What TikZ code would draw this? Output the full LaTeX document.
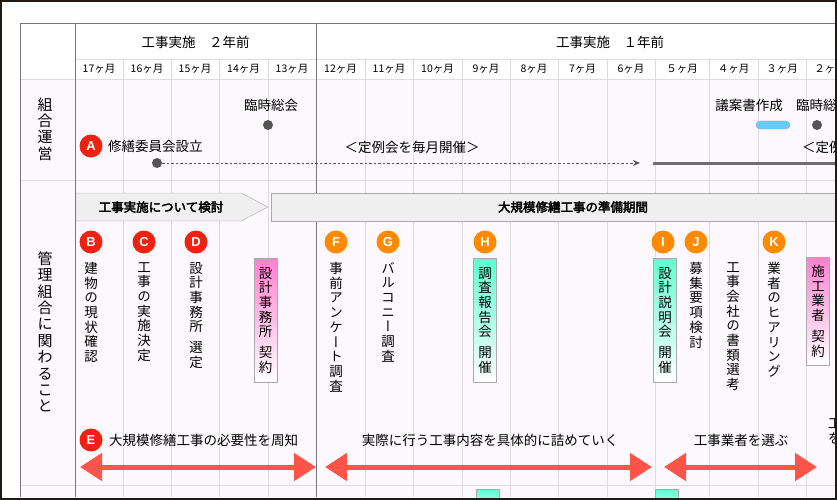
\documentclass[tikz,border=0pt]{standalone}
\usepackage{fontspec}
\setmainfont{Noto Sans CJK JP}[AutoFakeBold=3]
\newfontfamily\vjp{Noto Sans CJK JP}[RawFeature=+vert]
\newfontfamily\lat{Liberation Sans}
\usetikzlibrary{arrows.meta}
\definecolor{gridl}{HTML}{DDDDDD}
\definecolor{frameg}{HTML}{777777}
\definecolor{bodybg}{HTML}{FDF8FD}
\definecolor{redc}{HTML}{EE2211}
\definecolor{orc}{HTML}{FF8A00}
\definecolor{arrred}{HTML}{FF5548}
\definecolor{pinkt}{HTML}{FF7FD0}
\definecolor{aquat}{HTML}{60FFD0}
\definecolor{cyanp}{HTML}{66CCFF}
\definecolor{dotg}{HTML}{555555}
\definecolor{banf}{HTML}{EFEFEF}
\definecolor{band}{HTML}{AAAAAA}
\definecolor{outer}{HTML}{201A16}
\begin{document}
\begin{tikzpicture}[x=1pt,y=-1pt,
  hdr/.style={font=\fontsize{13.5}{14}\selectfont, inner sep=0},
  month/.style={font=\fontsize{10.5}{11}\selectfont, inner sep=0},
  body/.style={font=\fontsize{13.5}{15}\selectfont, inner sep=0},
  sidelabel/.style={align=center, font=\fontsize{15}{16.4}\selectfont, inner sep=0},
  letter/.style={circle, fill=#1, text=white, font=\lat\bfseries\fontsize{13}{13}\selectfont, minimum size=23, inner sep=0},
  vtext/.style={anchor=north, align=center, font=\vjp\fontsize{13.5}{14.7}\selectfont, inner sep=0},
  vbox/.style={draw=band, top color=#1, bottom color=white, minimum width=23, anchor=north, align=center, inner sep=0, font=\vjp\fontsize{13.5}{14.7}\selectfont},
  dot/.style={circle, fill=dotg, minimum size=10, inner sep=0},
  banner/.style={fill=banf, draw=band},
  bantext/.style={font=\bfseries\fontsize{12.5}{12.5}\selectfont, inner sep=0},
  redarrow/.style={arrred, line width=5, {Triangle[length=22pt,width=27pt]}-{Triangle[length=22pt,width=27pt]}}
]
\useasboundingbox (0,0) rectangle (837,500);
\clip (0,0) rectangle (837,500);
\fill[white] (0,0) rectangle (837,500);
\fill[bodybg] (20,79) rectangle (837,497);
% grid
\foreach \x in {123,171,219,268,365,413,462,510,558,607,655,709,758,806}
  \draw[gridl] (\x,59) -- (\x,497);
\draw[gridl] (75,59) -- (837,59);
\foreach \y in {79,180,485} \draw[gridl] (20,\y) -- (837,\y);
\draw[frameg] (20,23) -- (837,23);
\foreach \x in {20,75,316} \draw[frameg] (\x,23) -- (\x,497);
% headers
\node[hdr] (h2) at (195.5,42) {工事実施　２年前};
\node[hdr] (h1) at (610,42) {工事実施　１年前};
\foreach \x/\m [count=\i] in {99/17ヶ月,147/16ヶ月,195/15ヶ月,243.5/14ヶ月,292/13ヶ月,340.5/12ヶ月,389/11ヶ月,437.5/10ヶ月,486/9ヶ月,534/8ヶ月,582.5/7ヶ月,631/6ヶ月,682/５ヶ月,733.5/４ヶ月,782/３ヶ月,830/２ヶ月}
  \node[month] (m\i) at (\x,69) {\m};
% side labels
\node[sidelabel] (s1) at (45,129) {組\\合\\運\\営};
\node[sidelabel] (s2) at (45,332) {管\\理\\組\\合\\に\\関\\わ\\る\\こ\\と};
% 組合運営 row
\node[body] (t1) at (271,105) {臨時総会};
\node[dot] (d1) at (268,125) {};
\node[letter=redc] (A) at (91,146) {A};
\node[body, anchor=west] (tA) at (108,146) {修繕委員会設立};
\node[dot] (d0) at (157,163) {};
\coordinate (dend) at (640,163);
\draw[dotg, line width=0.8, dash pattern=on 2.5pt off 2pt, -{Stealth[length=7pt,width=6pt]}] (d0) -- (dend);
\node[body] (reg) at (412,147) {＜定例会を毎月開催＞};
\coordinate (g1) at (653,163);
\coordinate (g2) at (845,163);
\draw[dotg!85!white, line width=3] (g1) -- (g2);
\node[body] (gian) at (749,105) {議案書作成};
\node[draw=band, fill=cyanp, rounded corners=4, minimum width=34, minimum height=8, inner sep=0] (pill) at (773,125) {};
\node[body, anchor=west] (t2) at (796,105) {臨時総会};
\node[dot] (d2) at (817,125) {};
\node[body, anchor=west] (reg2) at (802,147) {＜定例会を毎月開催＞};
% banners
\draw[banner] (76,193) -- (241,193) -- (268,207) -- (241,221) -- (76,221) -- cycle;
\node[bantext] (b1) at (161,207) {工事実施について検討};
\draw[banner] (271,193) rectangle (850,221);
\node[bantext] (b2) at (573,207) {大規模修繕工事の準備期間};
% items
\node[letter=redc] (B) at (91,242) {B};
\node[letter=redc] (C) at (144,242) {C};
\node[letter=redc] (D) at (196,242) {D};
\node[vtext] (tB) at (91,262) {建\\物\\の\\現\\状\\確\\認};
\node[vtext] (tC) at (144,262) {工\\事\\の\\実\\施\\決\\定};
\node[vtext] (tD) at (196,262) {設\\計\\事\\務\\所\\[6pt]選\\定};
\node[vbox=pinkt, minimum height=124] (pD) at (265.5,258) {設\\計\\事\\務\\所\\[6pt]契\\約};
\node[letter=orc] (F) at (336,242) {F};
\node[letter=orc] (G) at (388,242) {G};
\node[letter=orc] (H) at (485,242) {H};
\node[vtext] (tF) at (336,262) {事\\前\\ア\\ン\\ケ\\ー\\ト\\調\\査};
\node[vtext] (tG) at (388,262) {バ\\ル\\コ\\ニ\\ー\\調\\査};
\node[vbox=aquat, minimum height=124] (pH) at (485,258) {調\\査\\報\\告\\会\\[6pt]開\\催};
\node[letter=orc] (I) at (663,242) {I};
\node[letter=orc] (J) at (696,242) {J};
\node[letter=orc] (K) at (774,242) {K};
\node[vbox=aquat, minimum height=124] (pI) at (665,258) {設\\計\\説\\明\\会\\[6pt]開\\催};
\node[vtext] (tJ) at (696,262) {募\\集\\要\\項\\検\\討};
\node[vtext] (tS) at (733,262) {工\\事\\会\\社\\の\\書\\類\\選\\考};
\node[vtext] (tK) at (774,262) {業\\者\\の\\ヒ\\ア\\リ\\ン\\グ};
\node[vbox=pinkt, minimum height=108] (pK) at (818,257) {施\\工\\業\\者\\[6pt]契\\約};
% phases
\node[letter=redc] (E) at (91,440) {E};
\node[body, anchor=west] (tE) at (109,440) {大規模修繕工事の必要性を周知};
\node[body] (p2) at (490,440) {実際に行う工事内容を具体的に詰めていく};
\node[body] (p3) at (741,440) {工事業者を選ぶ};
\node[body, anchor=north west, align=left, font=\fontsize{13.5}{15.5}\selectfont] (p4) at (828,418) {工\\を};
\coordinate (a1s) at (80,467);  \coordinate (a1e) at (316,467);
\coordinate (a2s) at (325,467); \coordinate (a2e) at (652,467);
\coordinate (a3s) at (664,467); \coordinate (a3e) at (817,467);
\draw[redarrow] (a1s) -- (a1e);
\draw[redarrow] (a2s) -- (a2e);
\draw[redarrow] (a3s) -- (a3e);
% bottom row boxes
\node[vbox=aquat, minimum height=30] (q1) at (487.5,489) {};
\node[vbox=aquat, minimum height=30] (q2) at (666.5,489) {};
% outer frame
\draw[outer, line width=2] (1,1) rectangle (836,499);
\end{tikzpicture}
\end{document}
